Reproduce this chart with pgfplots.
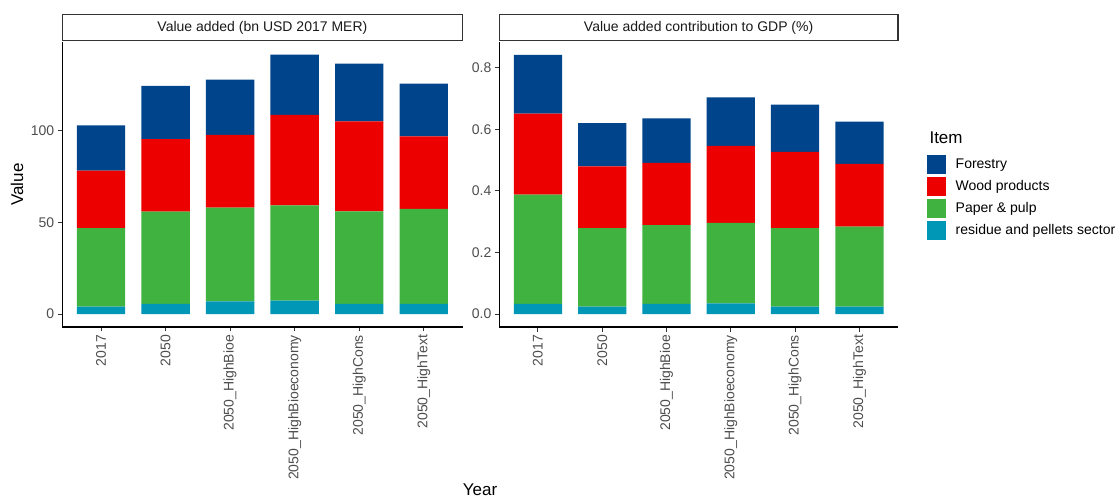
\documentclass[border=0pt]{standalone}
\usepackage{fontspec}
\setmainfont{Liberation Sans}
\usepackage{pgfplots}
\usepackage{pgfplotstable}
\pgfplotsset{compat=1.18}

\definecolor{forestry}{RGB}{0,68,139}
\definecolor{wood}{RGB}{236,0,0}
\definecolor{paper}{RGB}{64,178,64}
\definecolor{residue}{RGB}{0,150,182}
\definecolor{grey30}{RGB}{77,77,77}
\definecolor{grey20}{RGB}{51,51,51}
\definecolor{grey10}{RGB}{26,26,26}

\newcommand{\smallfont}{\fontsize{14bp}{16.5bp}\selectfont}
\newcommand{\titlefont}{\fontsize{17bp}{20bp}\selectfont}

% value added, bn USD 2017 MER (stacked components)
\pgfplotstableread{
x residue paper wood forestry
0 4.0 42.8 31.3 24.6
1 5.5 50.2 39.6 28.9
2 6.9 51.0 39.6 30.2
3 7.3 51.9 49.2 32.8
4 5.5 50.4 49.0 31.5
5 5.5 51.7 39.5 28.8
}\valueadded

% value added contribution to GDP, %
\pgfplotstableread{
x residue paper wood forestry
0 0.033 0.355 0.263 0.191
1 0.024 0.255 0.201 0.140
2 0.033 0.256 0.202 0.145
3 0.035 0.261 0.250 0.158
4 0.024 0.255 0.248 0.153
5 0.024 0.260 0.204 0.137
}\gdpshare

\pgfplotsset{
  panel/.style={
    scale only axis,
    height=285.3bp,
    xmin=-0.6, xmax=5.6,
    xtick={0,...,5},
    xticklabels={2017,2050,2050\_HighBioe,2050\_HighBioeconomy,2050\_HighCons,2050\_HighText},
    ybar stacked, bar width=0.75,
    axis x line=bottom, axis y line=left,
    axis line style={-, black, line width=1.1bp},
    tick style={grey20, line width=1bp},
    tick align=outside, major tick length=4.5bp,
    tick label style={font=\smallfont, text=grey30},
    xticklabel style={rotate=90, anchor=east},
    /pgf/number format/assume math mode=true,
    every axis title shift=0pt,
    title style={at={(0.5,1)}, anchor=south, draw=grey20, line width=1.1bp,
      fill=white, text=grey10, font=\smallfont, inner sep=0pt,
      minimum height=26bp, yshift=0.55bp},
    clip=false,
  },
  keybox/.style={legend image code/.code={\fill[##1] (0bp,-9.5bp) rectangle (19bp,9.5bp);}},
}

\begin{document}
\begin{tikzpicture}
\useasboundingbox (0,0) rectangle (1117bp,498bp);

\begin{axis}[panel, at={(62.3bp,171bp)}, anchor=south west, width=400.2bp,
  title={Value added (bn USD 2017 MER)}, title style={minimum width=400.2bp},
  ymin=-7.06, ymax=148.3, ytick={0,50,100}]
  \addplot[fill=residue, draw=none] table[x=x, y=residue] {\valueadded};
  \addplot[fill=paper, draw=none] table[x=x, y=paper] {\valueadded};
  \addplot[fill=wood, draw=none] table[x=x, y=wood] {\valueadded};
  \addplot[fill=forestry, draw=none] table[x=x, y=forestry] {\valueadded};
\end{axis}

\begin{axis}[panel, at={(499.3bp,171bp)}, anchor=south west, width=398.7bp,
  title={Value added contribution to GDP (\%)}, title style={minimum width=398.7bp},
  ymin=-0.0421, ymax=0.8848, ytick={0,0.2,0.4,0.6,0.8},
  yticklabel style={/pgf/number format/.cd, fixed, fixed zerofill, precision=1},
  reverse legend, legend cell align=left,
  legend style={at={(1.072,0.603)}, anchor=north west, draw=none, fill=none,
    inner sep=0pt, outer sep=0pt, row sep=3bp, column sep=10bp,
    nodes={inner sep=0pt, font=\smallfont, text=black}}]
  \addplot[fill=residue, draw=none, keybox] table[x=x, y=residue] {\gdpshare};
  \addlegendentry{residue and pellets sector}
  \addplot[fill=paper, draw=none, keybox] table[x=x, y=paper] {\gdpshare};
  \addlegendentry{Paper \& pulp}
  \addplot[fill=wood, draw=none, keybox] table[x=x, y=wood] {\gdpshare};
  \addlegendentry{Wood products}
  \addplot[fill=forestry, draw=none, keybox] table[x=x, y=forestry] {\gdpshare};
  \addlegendentry{Forestry}
\end{axis}

\node[font=\titlefont, rotate=90] at (17bp,313.5bp) {Value};
\node[font=\titlefont, anchor=base] at (480bp,3bp) {Year};
\node[font=\titlefont, anchor=base west] at (926bp,354.7bp) {Item};
\end{tikzpicture}
\end{document}
